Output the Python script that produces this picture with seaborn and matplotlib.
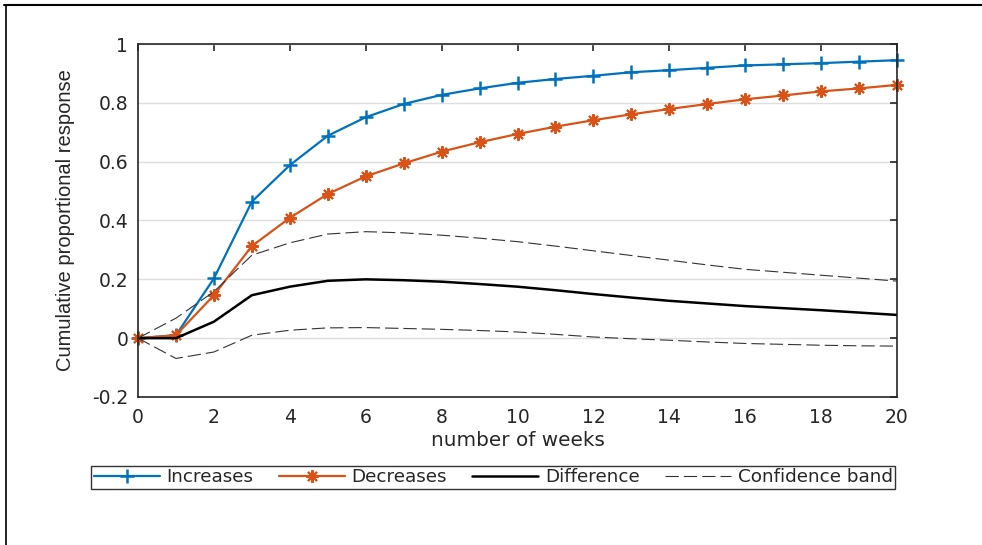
#!/usr/bin/env python3

import matplotlib
matplotlib.use("Agg")
import pandas as pd
import seaborn as sns
import matplotlib.pyplot as plt
from matplotlib.lines import Line2D

weeks = list(range(21))

increases = [0.0, 0.01, 0.203, 0.464, 0.588, 0.688, 0.751, 0.796, 0.827, 0.849, 0.868,
             0.881, 0.892, 0.904, 0.911, 0.919, 0.927, 0.931, 0.935, 0.940, 0.945]
decreases = [0.0, 0.01, 0.146, 0.313, 0.409, 0.490, 0.550, 0.594, 0.634, 0.666, 0.694,
             0.719, 0.741, 0.761, 0.779, 0.796, 0.812, 0.825, 0.839, 0.849, 0.861]
difference = [0.0, 0.0, 0.056, 0.146, 0.175, 0.195, 0.200, 0.197, 0.192, 0.184, 0.175,
              0.163, 0.150, 0.138, 0.127, 0.118, 0.109, 0.102, 0.095, 0.087, 0.079]
band_upper = [0.0, 0.068, 0.158, 0.282, 0.324, 0.354, 0.362, 0.358, 0.350, 0.340, 0.328,
              0.313, 0.297, 0.281, 0.265, 0.249, 0.234, 0.224, 0.214, 0.204, 0.194]
band_lower = [0.0, -0.069, -0.047, 0.010, 0.027, 0.035, 0.036, 0.033, 0.030, 0.026, 0.021,
              0.013, 0.004, -0.002, -0.007, -0.013, -0.018, -0.021, -0.024, -0.026, -0.027]

df = pd.DataFrame({"week": weeks, "inc": increases, "dec": decreases, "diff": difference,
                   "up": band_upper, "lo": band_lower})

sns.set_style("white")
plt.rcParams["font.family"] = ["DejaVu Sans"]
plt.rcParams["xtick.direction"] = "in"
plt.rcParams["ytick.direction"] = "in"

fig = plt.figure(figsize=(9.82, 5.45), dpi=100)
ax = fig.add_axes([138 / 982, 1 - 397 / 545, 759 / 982, 353 / 545])

blue = "#0072BD"
orange = "#D95319"
band = "#333333"
dash = (12, 4.5)

sns.lineplot(data=df, x="week", y="inc", ax=ax, color=blue, lw=1.6, marker="+",
             markersize=10.5, markeredgewidth=1.8, markeredgecolor=blue,
             label="Increases", clip_on=False)
sns.lineplot(data=df, x="week", y="dec", ax=ax, color=orange, lw=1.6, marker=(8, 2, 0),
             markersize=9, markeredgewidth=1.5, markeredgecolor=orange,
             label="Decreases", clip_on=False)
sns.lineplot(data=df, x="week", y="diff", ax=ax, color="black", lw=1.8, label="Difference")
sns.lineplot(data=df, x="week", y="up", ax=ax, color=band, lw=0.8, label="Confidence band")
ax.lines[-1].set_dashes(dash)
sns.lineplot(data=df, x="week", y="lo", ax=ax, color=band, lw=0.8, label="_nolegend_")
ax.lines[-1].set_dashes(dash)

ax.set_xlim(0, 20)
ax.set_ylim(-0.2, 1)
ax.set_xticks(range(0, 21, 2))
ax.set_yticks([-0.2, 0, 0.2, 0.4, 0.6, 0.8, 1])
ax.set_yticklabels(["-0.2", "0", "0.2", "0.4", "0.6", "0.8", "1"])
ax.tick_params(labelsize=13.5, top=True, right=True, length=5, width=1.2, colors="#262626")
ax.tick_params(axis="x", pad=8)
ax.tick_params(axis="y", pad=7)
ax.yaxis.grid(True, color="#dedede", lw=1)
for s in ax.spines.values():
    s.set_color("#262626")
    s.set_linewidth(1.2)

ax.set_xlabel("number of weeks", fontsize=14.4, color="#262626", labelpad=3)
ax.set_ylabel("Cumulative proportional response", fontsize=14.5, color="#262626",
              family=["Liberation Sans Narrow", "Liberation Sans"], labelpad=12)

leg = ax.legend(loc="center", bbox_to_anchor=(0.468, -0.228), ncol=4, fontsize=13.2,
                frameon=True, fancybox=False, edgecolor="#333333", framealpha=1,
                handlelength=3.6, columnspacing=1.4, handletextpad=0.35, borderpad=0.15,
                borderaxespad=0)
leg.get_frame().set_linewidth(1.0)

fig.add_artist(Line2D([4 / 982, 1], [1 - 5 / 545, 1 - 5 / 545], color="black", lw=1.5))
fig.add_artist(Line2D([6 / 982, 6 / 982], [0, 1 - 5 / 545], color="black", lw=1.2))

plt.savefig("out.png", dpi=100)
